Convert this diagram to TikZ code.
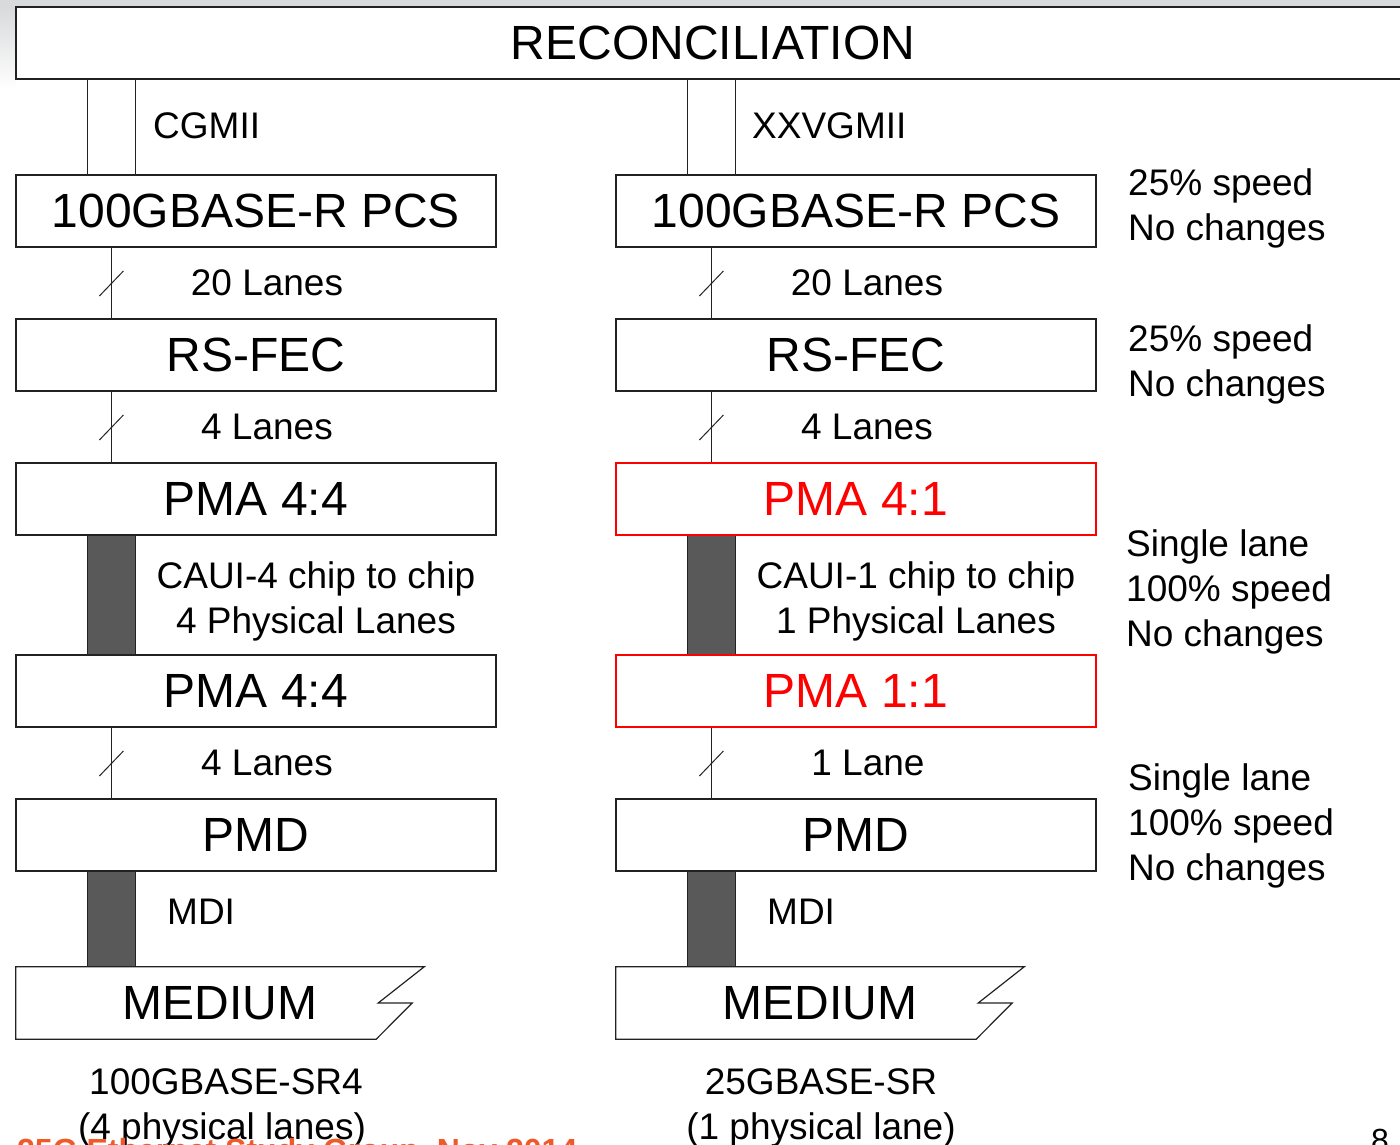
\documentclass[tikz,border=0pt]{standalone}
\usepackage{fontspec}
\setmainfont{Liberation Sans}
\usetikzlibrary{calc}
\definecolor{barfill}{HTML}{595959}
\definecolor{lyr}{HTML}{222222}
\definecolor{foot}{RGB}{240,90,40}
\definecolor{bggray}{HTML}{D9DADC}
\begin{document}
\begin{tikzpicture}[x=1pt,y=-1pt,
  layer/.style={draw=lyr, line width=1.2pt, fill=white, minimum width=480pt, minimum height=72pt, inner sep=0pt, font=\fontsize{48}{58}\selectfont},
  redlayer/.style={layer, draw=red, text=red},
  medbox/.style={minimum width=408pt, minimum height=72pt, inner sep=0pt, font=\fontsize{48}{58}\selectfont},
  medshape/.style={draw=lyr, line width=1.2pt},
  lbl/.style={font=\fontsize{37}{45}\selectfont, inner sep=0pt, anchor=base},
  note/.style={lbl, anchor=base west},
  conn/.style={draw=lyr, line width=1pt},
  barstyle/.style={draw=lyr, line width=1pt, fill=barfill}]
\useasboundingbox (0,0) rectangle (1400,1145);
\clip (0,0) rectangle (1400,1145);
% slide background
\fill[bggray] (0,0) rectangle (1400,7);
\shade[top color=bggray, bottom color=white] (0,7) rectangle (16,90);

% layers
\node[layer, minimum width=1394pt] (recon) at (713,43) {RECONCILIATION};

\node[layer] (pcsL)  at (256,211) {100GBASE-R PCS};
\node[layer] (fecL)  at (256,355) {RS-FEC};
\node[layer] (pmaAL) at (256,499) {PMA 4:4};
\node[layer] (pmaBL) at (256,691) {PMA 4:4};
\node[layer] (pmdL)  at (256,835) {PMD};
\node[medbox] (medL) at (220,1003) {MEDIUM};

\node[layer] (pcsR)  at (856,211) {100GBASE-R PCS};
\node[layer] (fecR)  at (856,355) {RS-FEC};
\node[redlayer] (pmaAR) at (856,499) {PMA 4:1};
\node[redlayer] (pmaBR) at (856,691) {PMA 1:1};
\node[layer] (pmdR)  at (856,835) {PMD};
\node[medbox] (medR) at (820,1003) {MEDIUM};

% medium shapes
\foreach \m in {medL,medR}{
  \draw[medshape] (\m.north west) -- (\m.north east) -- ($(\m.east)+(-46,0)$)
    -- ($(\m.east)+(-12,0)$) -- ($(\m.south east)+(-48,0)$) -- (\m.south west) -- cycle;
}

% xGMII double lines
\foreach \p in {pcsL,pcsR}{
  \draw[conn] ([xshift=72pt]\p.north west) -- ([xshift=72pt]\p.north west |- recon.south);
  \draw[conn] ([xshift=120pt]\p.north west) -- ([xshift=120pt]\p.north west |- recon.south);
}

% lane lines with slash
\foreach \a/\b in {pcsL/fecL,fecL/pmaAL,pmaBL/pmdL,pcsR/fecR,fecR/pmaAR,pmaBR/pmdR}{
  \draw[conn] ([xshift=96pt]\a.south west) -- ([xshift=96pt]\b.north west) coordinate[midway] (mid-\a);
  \draw[conn] ($(mid-\a)+(-12,13)$) -- ($(mid-\a)+(12,-12)$);
}

% physical bars
\foreach \a/\b in {pmaAL/pmaBL,pmdL/medL,pmaAR/pmaBR,pmdR/medR}{
  \draw[barstyle] ([xshift=72pt]\a.south west) rectangle ([xshift=120pt]\a.south west |- \b.north);
}

% redraw box borders over bars
\foreach \n in {pmaAL,pmaBL,pmdL}{ \draw[draw=lyr, line width=1.2pt] (\n.north west) rectangle (\n.south east); }
\foreach \n in {pmaAR,pmaBR}{ \draw[draw=red, line width=1.2pt] (\n.north west) rectangle (\n.south east); }
\foreach \n in {pmdR}{ \draw[draw=lyr, line width=1.2pt] (\n.north west) rectangle (\n.south east); }

% interface labels, left
\node[note] (cgmii) at (153,139) {CGMII};
\node[lbl] (l20L) at (267,295) {20 Lanes};
\node[lbl] (l4L) at (267,439) {4 Lanes};
\node[lbl] (cauiL1) at (316,588) {CAUI-4 chip to chip};
\node[lbl] (cauiL2) at (316,633) {4 Physical Lanes};
\node[lbl] (l4bL) at (267,775) {4 Lanes};
\node[note] (mdiL) at (167,924) {MDI};
\node[lbl] (phyL1) at (226,1094) {100GBASE-SR4};
\node[lbl] (phyL2) at (222,1139) {(4 physical lanes)};

% interface labels, right
\node[note] (xxv) at (752,139) {XXVGMII};
\node[lbl] (l20R) at (867,295) {20 Lanes};
\node[lbl] (l4R) at (867,439) {4 Lanes};
\node[lbl] (cauiR1) at (916,588) {CAUI-1 chip to chip};
\node[lbl] (cauiR2) at (916,633) {1 Physical Lanes};
\node[lbl] (l1R) at (868,775) {1 Lane};
\node[note] (mdiR) at (767,924) {MDI};
\node[lbl] (phyR1) at (821,1094) {25GBASE-SR};
\node[lbl] (phyR2) at (821,1139) {(1 physical lane)};

% notes
\node[note] (n1a) at (1128,195) {25\% speed};
\node[note] (n1b) at (1128,240) {No changes};
\node[note] (n2a) at (1128,351) {25\% speed};
\node[note] (n2b) at (1128,396) {No changes};
\node[note] (n3a) at (1126,556) {Single lane};
\node[note] (n3b) at (1126,601) {100\% speed};
\node[note] (n3c) at (1126,646) {No changes};
\node[note] (n4a) at (1128,790) {Single lane};
\node[note] (n4b) at (1128,835) {100\% speed};
\node[note] (n4c) at (1128,880) {No changes};

% footer (cut off)
\node[anchor=base west, inner sep=0pt, text=foot, font=\bfseries\fontsize{32}{38}\selectfont] (foot) at (17,1161) {25G Ethernet Study Group, Nov 2014};
\node[anchor=base, inner sep=0pt, font=\fontsize{32}{38}\selectfont] (pg) at (1380,1151) {8};
\end{tikzpicture}
\end{document}
